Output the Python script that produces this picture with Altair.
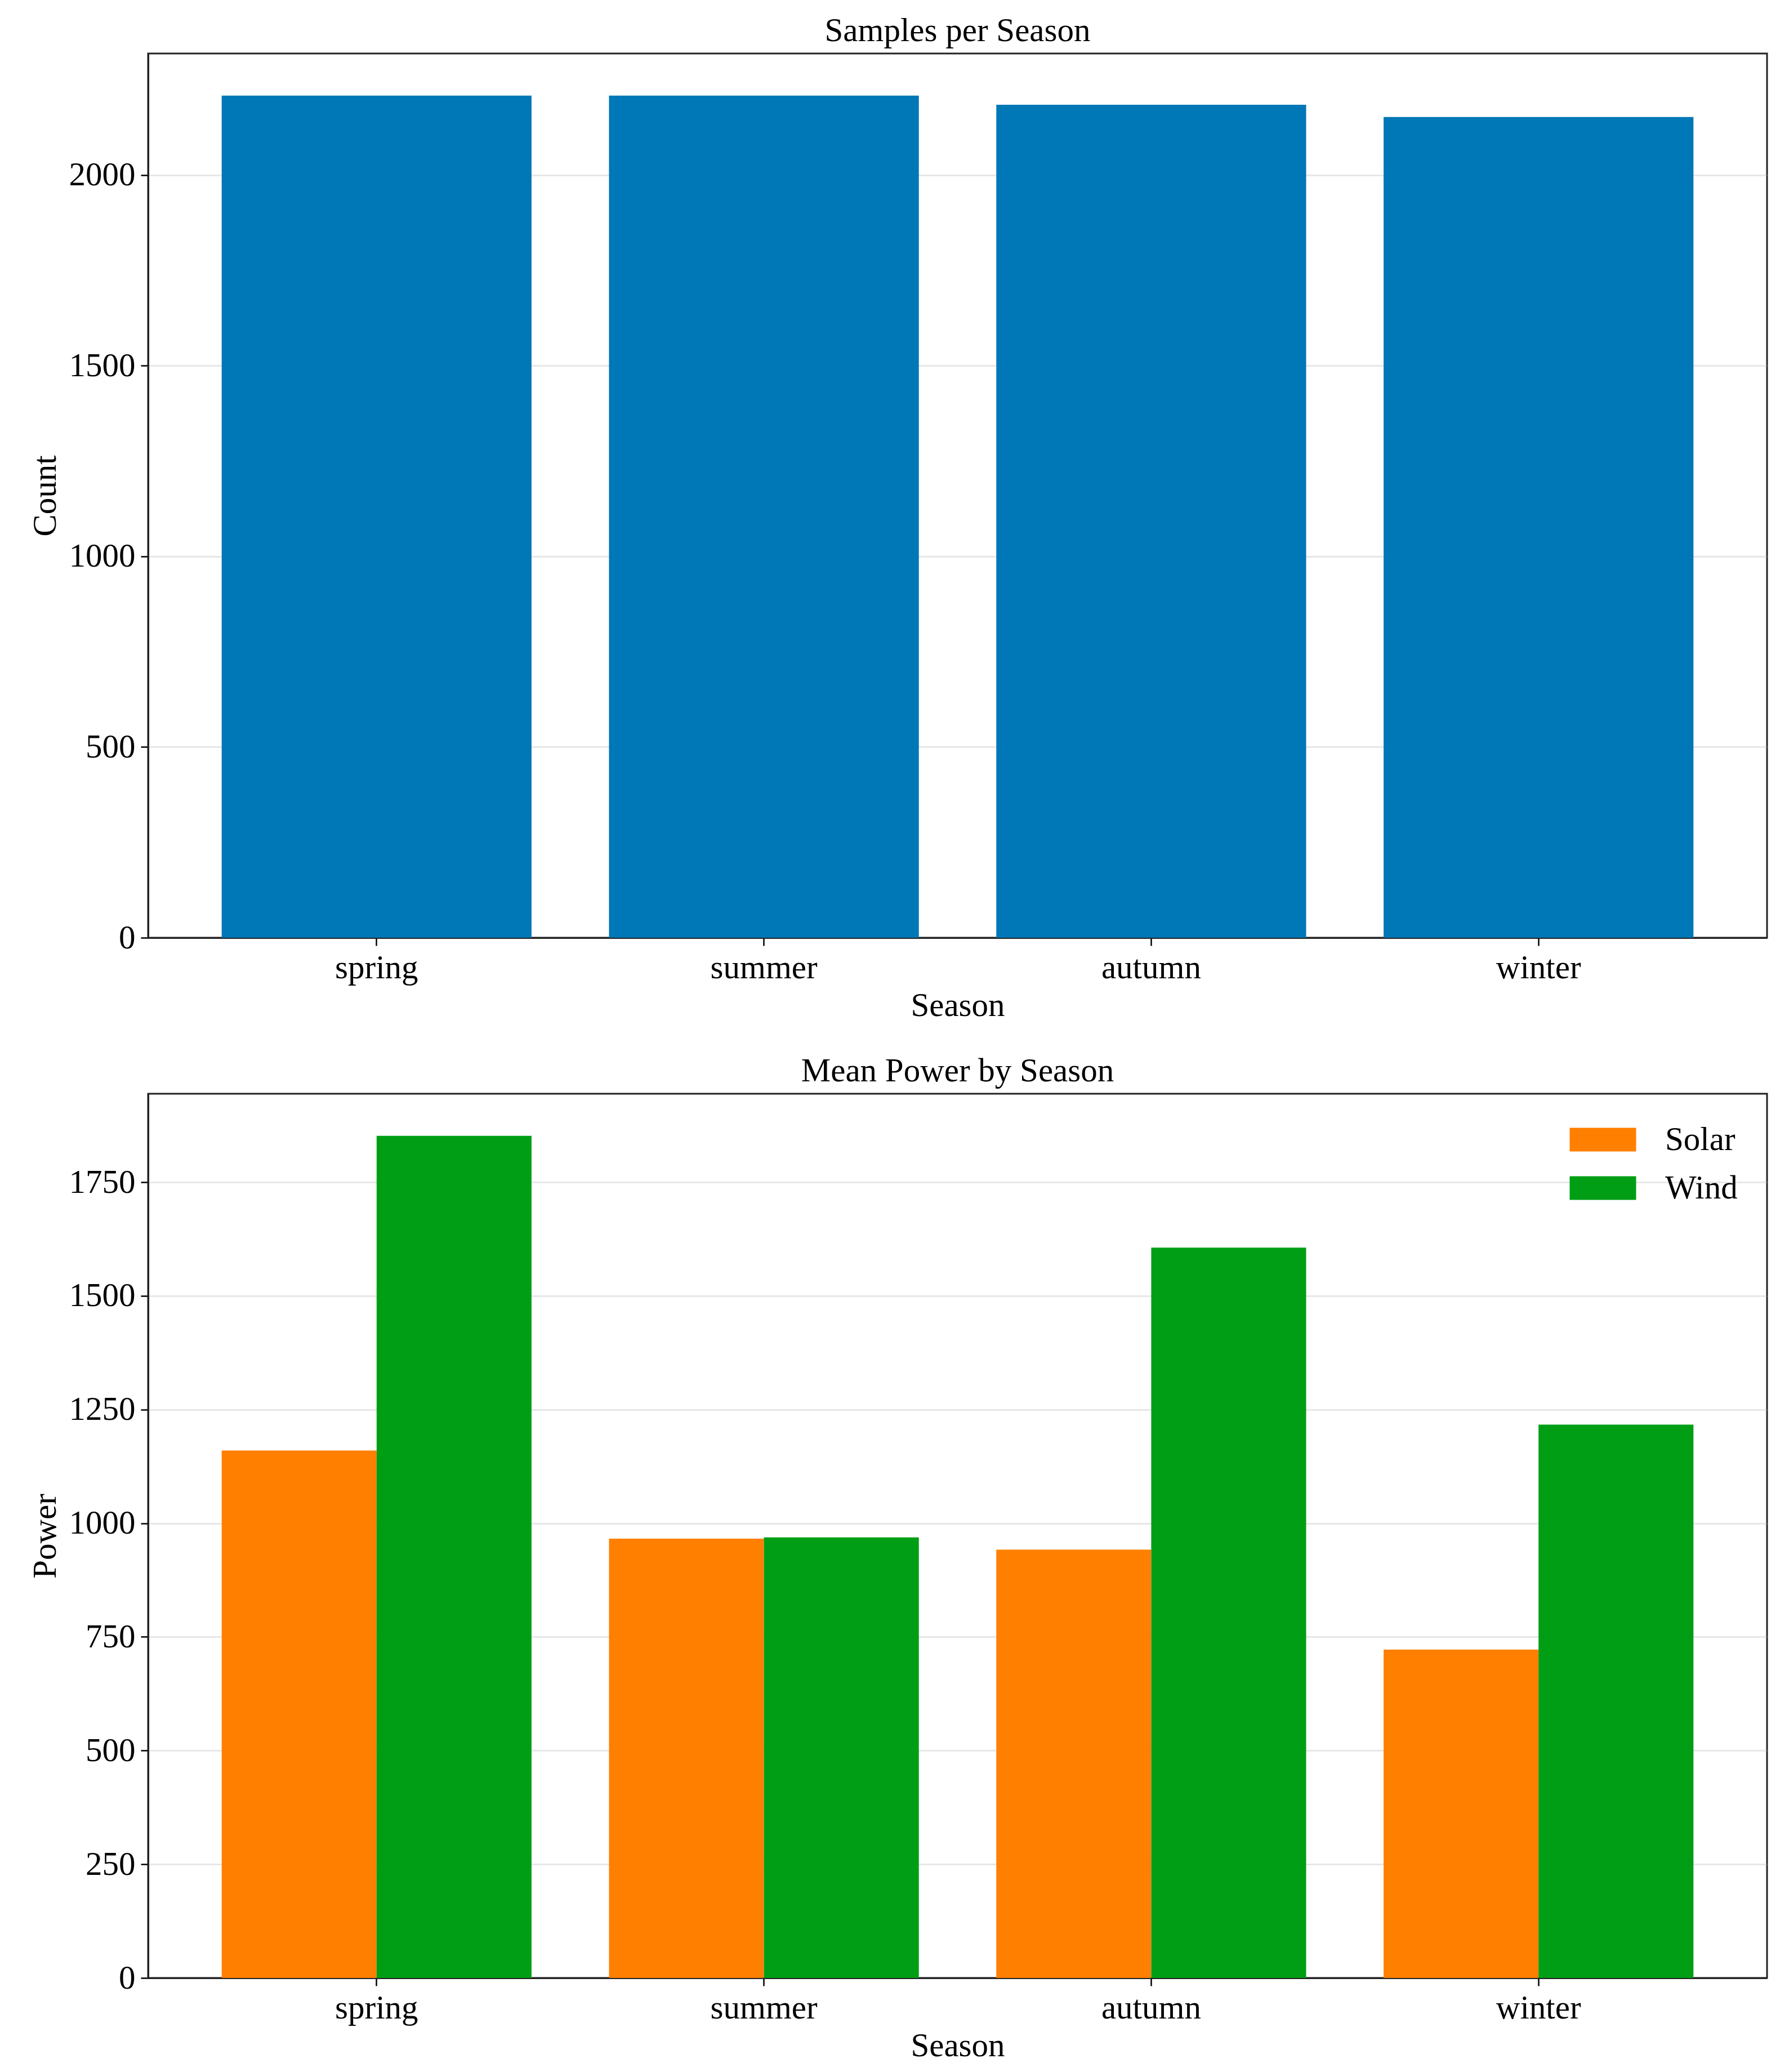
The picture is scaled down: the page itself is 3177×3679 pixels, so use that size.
import altair as alt
import pandas as pd

# season order used on both panels
seasons = ["spring", "summer", "autumn", "winter"]
sample_counts = [2208, 2208, 2184, 2152]

sources = ["Solar", "Wind"]
solar_power = [1160, 966, 942, 722]
wind_power = [1852, 969, 1606, 1217]

count_ticks = [0, 500, 1000, 1500, 2000]
power_ticks = [0, 250, 500, 750, 1000, 1250, 1500, 1750]

BLUE = "#0077b6"
ORANGE = "#ff7f00"
GREEN = "#009e15"
FONT = "Liberation Serif"
FS = 59
W, H = 2875, 1570

counts_df = pd.DataFrame({"season": seasons, "count": sample_counts})
power_df = pd.DataFrame({
    "season": seasons * 2,
    "source": [sources[0]] * len(seasons) + [sources[1]] * len(seasons),
    "power": solar_power + wind_power,
})


def season_x() -> alt.X:
    return alt.X(
        "season:N", sort=seasons, title="Season",
        scale=alt.Scale(domain=seasons, paddingInner=0.2, paddingOuter=0.19),
        axis=alt.Axis(labelAngle=0, grid=False, tickSize=14, labelPadding=10,
                      titlePadding=8, labelLimit=1000),
    )


def value_y(field: str, title: str, top: float, ticks: list) -> alt.Y:
    return alt.Y(
        field, title=title,
        scale=alt.Scale(domain=[0, top], nice=False, zero=True),
        axis=alt.Axis(values=ticks, format="d", tickSize=13, labelPadding=10,
                      titlePadding=12),
    )


counts = alt.Chart(counts_df, title="Samples per Season").mark_bar(
    color=BLUE
).encode(
    x=season_x(),
    y=value_y("count:Q", "Count", max(sample_counts) * 1.05, count_ticks),
).properties(width=W, height=H)

power = alt.Chart(power_df, title="Mean Power by Season").mark_bar().encode(
    x=season_x(),
    xOffset=alt.XOffset("source:N", sort=sources,
                        scale=alt.Scale(paddingInner=0, paddingOuter=0)),
    y=value_y("power:Q", "Power", max(solar_power + wind_power) * 1.05, power_ticks),
    color=alt.Color(
        "source:N",
        scale=alt.Scale(domain=sources, range=[ORANGE, GREEN]),
        legend=alt.Legend(
            title=None, orient="top-right", offset=52, padding=0,
            symbolType="M-2.95,-1.05H2.95V1.05H-2.95Z", symbolSize=1600,
            symbolStrokeWidth=0, symbolOpacity=1,
            labelOffset=81, rowPadding=26, labelLimit=1000,
            labelFont=FONT, labelFontSize=FS, labelColor="black",
        ),
    ),
).properties(width=W, height=H)

chart = alt.vconcat(counts, power, spacing=54).resolve_legend(
    color="independent"
).properties(
    background="white",
    padding={"left": 41, "top": 16, "right": 25, "bottom": 4},
).configure_view(
    stroke="#222222", strokeWidth=3
).configure_title(
    font=FONT, fontSize=FS, fontWeight="normal", color="black",
    anchor="middle", offset=10,
).configure_axis(
    labelFont=FONT, labelFontSize=FS, labelColor="black",
    titleFont=FONT, titleFontSize=FS, titleFontWeight="normal", titleColor="black",
    tickColor="black", tickWidth=2.5,
    domainColor="#222222", domainWidth=3,
    gridColor="#b0b0b0", gridOpacity=0.3, gridWidth=3,
    zindex=1,
)

chart.save("out.html", embed_options={"renderer": "svg", "actions": False})
